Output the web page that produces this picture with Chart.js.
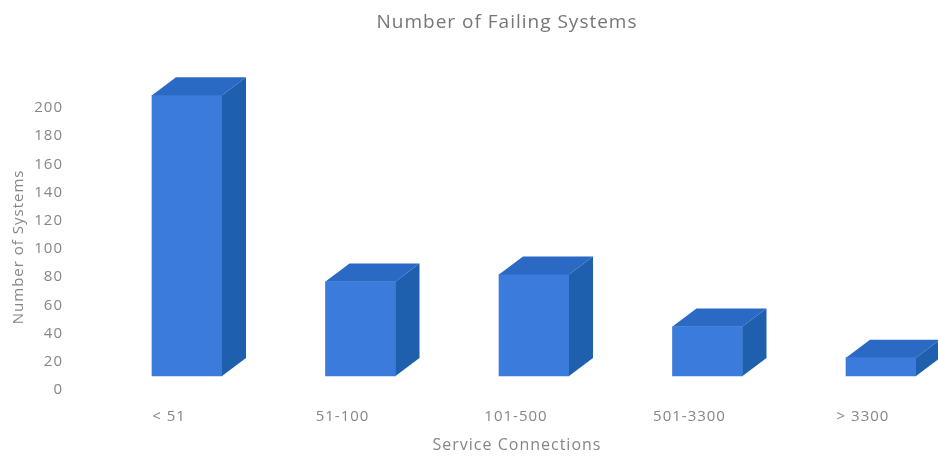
<!DOCTYPE html>
<html>
<head>
<meta charset="utf-8">
<style>
  html, body { margin: 0; padding: 0; background: #fff; overflow: hidden; }
  canvas { display: block; }
</style>
<script src="https://cdn.jsdelivr.net/npm/chart.js@4"></script>
</head>
<body>
<canvas id="chartContainer" width="938" height="456"></canvas>
<script>
const categories = ["< 51", "51-100", "101-500", "501-3300", "> 3300"];
const failingSystems = [199, 67, 72, 35, 13];
const tickValues = [0, 20, 40, 60, 80, 100, 120, 140, 160, 180, 200];

const labelColor = "#868686";
const depthX = 24;
const depthY = 18;

// draws the top and right faces of each bar, reference is a fake 3d excel chart
const depthFaces = {
  id: "depthFaces",
  afterLayout(chart) {
    // the titles are not centred on the plot in the reference
    chart.titleBlock.left += 123;
    chart.scales.x.left -= 34;
    chart.scales.y.bottom += 24;
  },
  beforeDraw(chart) {
    chart.ctx.letterSpacing = "1px";
  },
  afterDatasetsDraw(chart) {
    const ctx = chart.ctx;
    chart.getDatasetMeta(0).data.forEach((bar) => {
      const left = bar.x - bar.width / 2;
      const right = bar.x + bar.width / 2;
      ctx.fillStyle = "#2a69c4";
      ctx.beginPath();
      ctx.moveTo(left, bar.y);
      ctx.lineTo(left + depthX, bar.y - depthY);
      ctx.lineTo(right + depthX, bar.y - depthY);
      ctx.lineTo(right, bar.y);
      ctx.closePath();
      ctx.fill();
      ctx.fillStyle = "#1e5fae";
      ctx.beginPath();
      ctx.moveTo(right, bar.y);
      ctx.lineTo(right + depthX, bar.y - depthY);
      ctx.lineTo(right + depthX, bar.base - depthY);
      ctx.lineTo(right, bar.base);
      ctx.closePath();
      ctx.fill();
    });
  },
};

const data = {
  labels: categories,
  datasets: [
    {
      label: "Number of Failing Systems",
      data: failingSystems,
      backgroundColor: "#3a7bdb",
      borderWidth: 0,
      barThickness: 70,
      clip: false,
    },
  ],
};

const config = {
  type: "bar",
  data: data,
  plugins: [depthFaces],
  options: {
    responsive: false,
    animation: false,
    layout: {
      padding: { left: 10, right: 57, top: 0, bottom: 0 },
    },
    scales: {
      x: {
        offset: false,
        grid: { display: false, drawTicks: false },
        border: { display: false },
        // big tick padding makes chart.js reserve too much room, so set it here
        afterFit(scale) {
          scale.height = 80;
          scale.paddingLeft = 0;
          scale.paddingRight = 0;
        },
        ticks: {
          color: labelColor,
          font: { family: "Open Sans", size: 15 },
          labelOffset: -18,
          padding: 32,
          maxRotation: 0,
        },
        title: {
          display: true,
          text: "Service Connections",
          color: labelColor,
          font: { family: "Open Sans", size: 16 },
          padding: { top: 0, bottom: 1 },
        },
      },
      y: {
        min: 0,
        max: 200,
        grid: { display: false, drawTicks: false },
        border: { display: false },
        afterBuildTicks(scale) {
          scale.ticks = tickValues.map((v) => ({ value: v }));
        },
        afterFit(scale) {
          scale.width = 177;
          scale.paddingTop = 0;
          scale.paddingBottom = 0;
        },
        ticks: {
          color: labelColor,
          font: { family: "Open Sans", size: 15 },
          labelOffset: 14,
          padding: 124,
        },
        title: {
          display: true,
          text: "Number of Systems",
          color: labelColor,
          font: { family: "Open Sans", size: 15 },
          padding: { top: 0, bottom: 0 },
        },
      },
    },
    plugins: {
      legend: { display: false },
      tooltip: { enabled: false },
      title: {
        display: true,
        text: "Number of Failing Systems",
        color: "#767676",
        font: { family: "Open Sans", size: 19, weight: "normal" },
        padding: { top: 11, bottom: 60 },
      },
    },
  },
};

const ctx = document.getElementById("chartContainer").getContext("2d");
const failingChart = new Chart(ctx, config);
</script>
</body>
</html>
